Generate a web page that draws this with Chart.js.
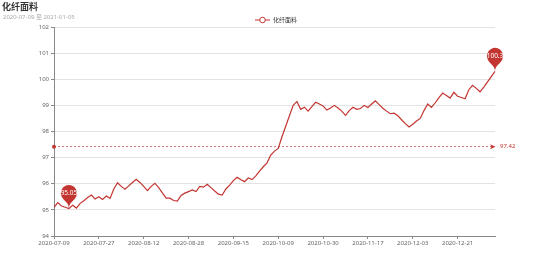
<!DOCTYPE html>
<html>
<head>
<meta charset="utf-8">
<script src="https://cdn.jsdelivr.net/npm/chart.js@4/dist/chart.umd.min.js"></script>
<style>
html,body{margin:0;padding:0;background:#fff;}
#wrap{position:relative;width:554px;height:265px;}
canvas{display:block;}
</style>
</head>
<body>
<div id="wrap"><canvas id="c" width="554" height="265"></canvas></div>
<script>
const titleText = '化纤面料';
const subtitleText = '2020-07-09 至 2021-01-05';
const seriesName = '化纤面料';
const dates = [
'2020-07-09','2020-07-10','2020-07-13','2020-07-14','2020-07-15','2020-07-16','2020-07-17','2020-07-20','2020-07-21','2020-07-22','2020-07-23','2020-07-24',
'2020-07-27','2020-07-28','2020-07-29','2020-07-30','2020-07-31','2020-08-03','2020-08-04','2020-08-05','2020-08-06','2020-08-07','2020-08-10','2020-08-11',
'2020-08-12','2020-08-13','2020-08-14','2020-08-17','2020-08-18','2020-08-19','2020-08-20','2020-08-21','2020-08-24','2020-08-25','2020-08-26','2020-08-27',
'2020-08-28','2020-08-31','2020-09-01','2020-09-02','2020-09-03','2020-09-04','2020-09-07','2020-09-08','2020-09-09','2020-09-10','2020-09-11','2020-09-14',
'2020-09-15','2020-09-16','2020-09-17','2020-09-18','2020-09-21','2020-09-22','2020-09-23','2020-09-24','2020-09-25','2020-09-28','2020-09-29','2020-09-30',
'2020-10-09','2020-10-12','2020-10-13','2020-10-14','2020-10-15','2020-10-16','2020-10-19','2020-10-20','2020-10-22','2020-10-23','2020-10-26','2020-10-28',
'2020-10-30','2020-11-02','2020-11-03','2020-11-04','2020-11-05','2020-11-06','2020-11-09','2020-11-10','2020-11-11','2020-11-12','2020-11-13','2020-11-16',
'2020-11-17','2020-11-18','2020-11-19','2020-11-20','2020-11-23','2020-11-24','2020-11-25','2020-11-26','2020-11-27','2020-11-30','2020-12-01','2020-12-02',
'2020-12-03','2020-12-04','2020-12-07','2020-12-08','2020-12-09','2020-12-10','2020-12-11','2020-12-14','2020-12-15','2020-12-16','2020-12-17','2020-12-18',
'2020-12-21','2020-12-22','2020-12-23','2020-12-24','2020-12-25','2020-12-28','2020-12-29','2020-12-30','2020-12-31','2021-01-04','2021-01-05'
];
const values = [
95.10,95.28,95.15,95.10,95.05,95.18,95.07,95.25,95.35,95.47,95.57,95.42,
95.50,95.40,95.53,95.44,95.80,96.04,95.90,95.79,95.92,96.05,96.17,96.05,
95.90,95.74,95.90,96.02,95.85,95.65,95.45,95.45,95.36,95.34,95.55,95.64,
95.70,95.76,95.70,95.90,95.87,95.98,95.85,95.72,95.60,95.57,95.80,95.95,
96.12,96.25,96.15,96.08,96.22,96.16,96.30,96.48,96.65,96.80,97.10,97.25,
97.35,97.80,98.20,98.60,99.00,99.15,98.85,98.93,98.78,98.95,99.12,99.05,
98.98,98.82,98.90,99.00,98.90,98.78,98.62,98.80,98.93,98.85,98.88,99.00,
98.92,99.05,99.17,99.03,98.89,98.78,98.68,98.70,98.60,98.45,98.30,98.17,
98.28,98.40,98.50,98.80,99.05,98.92,99.10,99.30,99.47,99.38,99.28,99.50,
99.35,99.30,99.25,99.60,99.77,99.65,99.52,99.70,99.90,100.10,100.30
];
const yTicks = [94,95,96,97,98,99,100,101,102];
const avgValue = 97.42;
const labelEvery = 12;

const RED = '#c23531';
const FONT = "'Noto Sans', 'Noto Sans CJK SC', sans-serif";

function pin(ctx, x, y, text) {
  const size = 27;
  const w = size / 5 * 3, h = size, r = w / 2;
  const dy = r * r / (h - r);
  const cy = y - h + r + dy;
  const angle = Math.asin(dy / r);
  const dx = Math.cos(angle) * r;
  const tanX = Math.sin(angle), tanY = Math.cos(angle);
  const cpLen = r * 0.6, cpLen2 = r * 0.7;
  ctx.save();
  ctx.beginPath();
  ctx.moveTo(x - dx, cy + dy);
  ctx.arc(x, cy, r, Math.PI - angle, Math.PI * 2 + angle);
  ctx.bezierCurveTo(x + dx - tanX * cpLen, cy + dy + tanY * cpLen, x, y - cpLen2, x, y);
  ctx.bezierCurveTo(x, y - cpLen2, x - dx + tanX * cpLen, cy + dy + tanY * cpLen, x - dx, cy + dy);
  ctx.closePath();
  ctx.fillStyle = RED;
  ctx.fill();
  ctx.fillStyle = '#fff';
  ctx.font = '6.5px ' + FONT;
  ctx.textAlign = 'center';
  ctx.textBaseline = 'middle';
  ctx.fillText(text, x, cy + 0.5);
  ctx.restore();
}

const decor = {
  id: 'decor',
  afterDatasetsDraw(chart) {
    const ctx = chart.ctx;
    const xs = chart.scales.x, ys = chart.scales.y;
    ctx.save();
    ctx.fillStyle = '#333';
    ctx.font = 'bold 9px ' + FONT;
    ctx.textAlign = 'left';
    ctx.textBaseline = 'middle';
    ctx.fillText(titleText, 2, 7);
    ctx.fillStyle = '#aaa';
    ctx.font = '6px ' + FONT;
    ctx.fillText(subtitleText, 3, 17);
    const lx = 255, ly = 20;
    ctx.strokeStyle = RED;
    ctx.lineWidth = 1;
    ctx.beginPath(); ctx.moveTo(lx, ly); ctx.lineTo(lx + 15, ly); ctx.stroke();
    ctx.beginPath(); ctx.arc(lx + 7.5, ly, 2.8, 0, Math.PI * 2);
    ctx.fillStyle = '#fff'; ctx.fill(); ctx.stroke();
    ctx.fillStyle = '#333';
    ctx.font = '6px ' + FONT;
    ctx.fillText(seriesName, lx + 18, ly);
    const ay = ys.getPixelForValue(avgValue);
    const x0 = xs.getPixelForValue(0), x1 = xs.getPixelForValue(values.length - 1);
    ctx.strokeStyle = RED;
    ctx.globalAlpha = 0.85;
    ctx.lineWidth = 0.8;
    ctx.setLineDash([2, 2]);
    ctx.beginPath(); ctx.moveTo(x0, ay); ctx.lineTo(x1 - 3, ay); ctx.stroke();
    ctx.setLineDash([]);
    ctx.globalAlpha = 1;
    ctx.fillStyle = RED;
    ctx.beginPath(); ctx.arc(x0, ay, 2, 0, Math.PI * 2); ctx.fill();
    ctx.beginPath();
    ctx.moveTo(x1 + 0.5, ay);
    ctx.lineTo(x1 - 5, ay - 2.5);
    ctx.lineTo(x1 - 3.5, ay);
    ctx.lineTo(x1 - 5, ay + 2.5);
    ctx.closePath(); ctx.fill();
    ctx.font = '6px ' + FONT;
    ctx.textAlign = 'left';
    ctx.fillText(avgValue.toFixed(2), x1 + 5, ay);
    ctx.restore();
    let mi = 0, ma = 0;
    values.forEach((v, i) => { if (v < values[mi]) mi = i; if (v > values[ma]) ma = i; });
    pin(ctx, xs.getPixelForValue(mi), ys.getPixelForValue(values[mi]), String(values[mi]));
    pin(ctx, xs.getPixelForValue(ma), ys.getPixelForValue(values[ma]), String(values[ma]));
  }
};

new Chart(document.getElementById('c'), {
  type: 'line',
  data: {
    labels: dates,
    datasets: [{
      label: seriesName,
      data: values,
      borderColor: RED,
      backgroundColor: RED,
      borderWidth: 1.2,
      pointRadius: 0,
      tension: 0,
      fill: false
    }]
  },
  options: {
    responsive: false,
    devicePixelRatio: 1,
    animation: false,
    layout: { padding: { left: 0, top: 27, right: 59, bottom: 0 } },
    plugins: { legend: { display: false }, title: { display: false }, tooltip: { enabled: false } },
    scales: {
      x: {
        type: 'category',
        offset: false,
        border: { color: '#888', width: 1 },
        grid: { drawOnChartArea: false, drawTicks: true, tickLength: 3, tickColor: '#888' },
        ticks: {
          autoSkip: false, maxRotation: 0, minRotation: 0, padding: 1,
          color: '#666', font: { size: 6, family: FONT },
          callback: function (v, i) { return i % labelEvery === 0 ? dates[i] : null; }
        },
        afterFit: function (s) { s.height = 29; }
      },
      y: {
        min: yTicks[0], max: yTicks[yTicks.length - 1],
        border: { color: '#888', width: 1 },
        grid: { color: '#e3e3e3', drawTicks: true, tickLength: 3, tickColor: '#888' },
        afterBuildTicks: function (s) { s.ticks = yTicks.map(v => ({ value: v })); },
        ticks: { color: '#666', font: { size: 6, family: FONT }, padding: 2 },
        afterFit: function (s) { s.width = 54; }
      }
    }
  },
  plugins: [decor]
});
</script>
</body>
</html>
